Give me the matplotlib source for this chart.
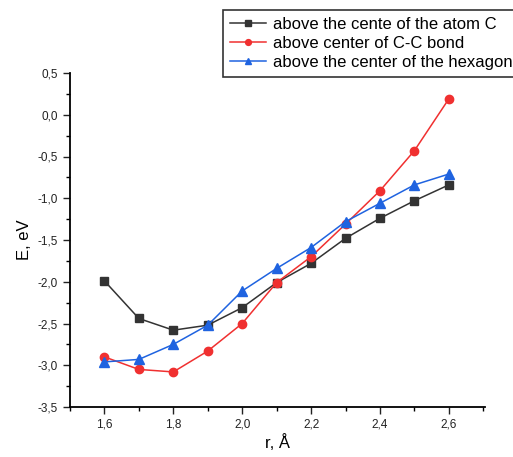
import matplotlib
matplotlib.use("Agg")
import matplotlib.pyplot as plt
from matplotlib.ticker import FuncFormatter, MultipleLocator

r = [1.6, 1.7, 1.8, 1.9, 2.0, 2.1, 2.2, 2.3, 2.4, 2.5, 2.6]
e_atom = [-1.99, -2.44, -2.58, -2.52, -2.31, -2.01, -1.78, -1.48, -1.24, -1.03, -0.84]
e_bond = [-2.90, -3.05, -3.08, -2.83, -2.50, -2.01, -1.70, -1.31, -0.91, -0.43, 0.19]
e_hex = [-2.96, -2.93, -2.75, -2.52, -2.11, -1.84, -1.59, -1.28, -1.06, -0.84, -0.71]
labels = ["above the cente of the atom C", "above center of C-C bond",
          "above the center of the hexagon"]

plt.rcParams['font.family'] = ['Liberation Sans', 'DejaVu Sans']

fig = plt.figure(figsize=(5.13, 4.57), dpi=100)
ax = fig.add_axes([70/513, 50/457, 415/513, 334/457])

l1, = ax.plot(r, e_atom, color='#333333', marker='s', markersize=6, lw=1.1, label=labels[0])
l2, = ax.plot(r, e_bond, color='#f03030', marker='o', markersize=6, lw=1.1, label=labels[1])
l3, = ax.plot(r, e_hex, color='#1f63e0', marker='^', markersize=7, lw=1.1, label=labels[2])

ax.set_xlim(1.5, 2.705)
ax.set_ylim(-3.5, 0.5)
ax.xaxis.set_major_locator(MultipleLocator(0.2))
ax.xaxis.set_minor_locator(MultipleLocator(0.1))
ax.yaxis.set_major_locator(MultipleLocator(0.5))
ax.yaxis.set_minor_locator(MultipleLocator(0.25))
fmt = FuncFormatter(lambda v, p: f"{v:.1f}".replace('.', ',').replace('-0,0', '0,0'))
ax.xaxis.set_major_formatter(fmt)
ax.yaxis.set_major_formatter(fmt)
for s in ['top', 'right']:
    ax.spines[s].set_visible(False)
for s in ['left', 'bottom']:
    ax.spines[s].set_linewidth(1.3)
ax.tick_params(which='major', direction='out', length=5, width=1, labelsize=8.5, colors='#222222')
ax.tick_params(which='minor', direction='out', length=3, width=1)
ax.set_xlabel("r, Å", fontsize=12, labelpad=2)
ax.set_ylabel("E, eV", fontsize=12, labelpad=4)

leg = fig.legend(handles=[l1, l2, l3], loc='upper left', bbox_to_anchor=(223/513, 1 - 10/457),
                 fontsize=12, frameon=True, fancybox=False, edgecolor='black',
                 borderpad=0.4, labelspacing=0.25, handlelength=2.2, handletextpad=0.4,
                 markerscale=0.7, borderaxespad=0)
leg.get_frame().set_linewidth(1.2)

fig.savefig("out.png", dpi=100)
